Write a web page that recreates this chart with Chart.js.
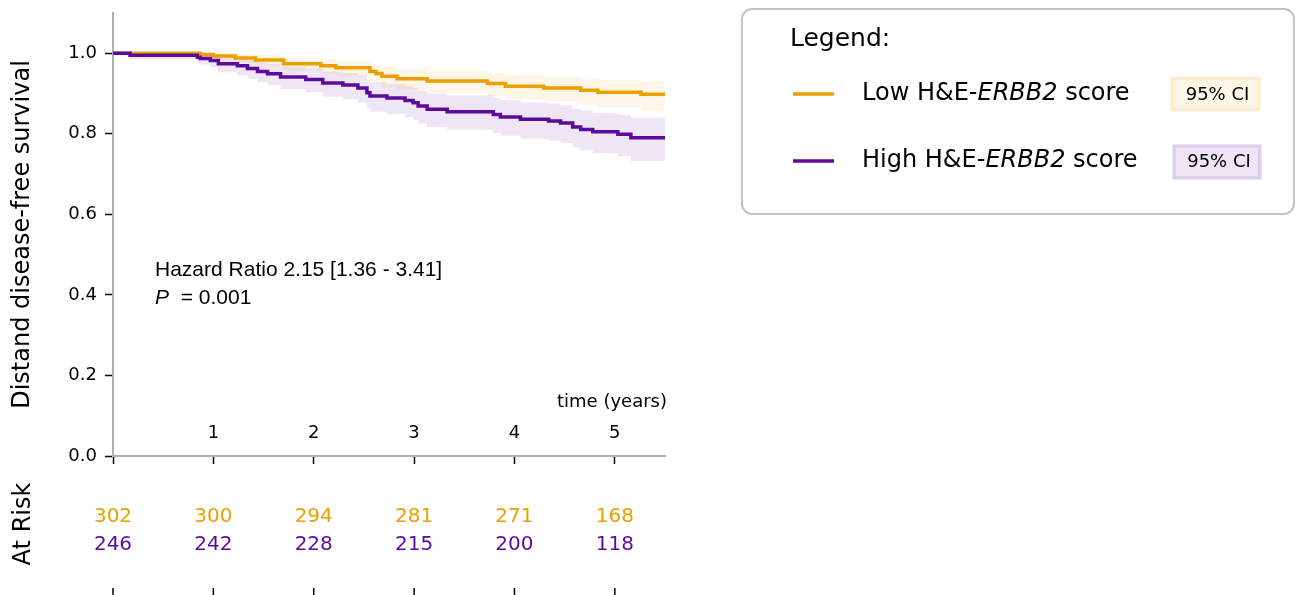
<!DOCTYPE html>
<html>
<head>
<meta charset="utf-8">
<script src="https://cdn.jsdelivr.net/npm/chart.js@4.4.1/dist/chart.umd.min.js"></script>
<style>
  html, body { margin: 0; padding: 0; background: #fff; }
  #km { display: block; }
</style>
</head>
<body>
<canvas id="km" width="1300" height="595"></canvas>
<script>
// Kaplan-Meier steps (time in years)
const lowTimes  = [0, 0.87, 1.0, 1.22, 1.42, 1.70, 2.07, 2.22, 2.56, 2.62, 2.68, 2.83, 3.13, 3.73, 3.91, 4.29, 4.66, 4.83, 5.26, 5.5];
const lowSurv   = [1, .997, .993, .988, .983, .974, .969, .964, .955, .950, .943, .937, .931, .925, .918, .914, .908, .903, .898, .898];
const lowLower  = [1, .990, .984, .976, .969, .957, .950, .943, .931, .925, .916, .909, .902, .894, .886, .881, .873, .866, .858, .858];
const lowUpper  = [1, 1, 1, .998, .995, .989, .985, .981, .975, .971, .966, .961, .956, .951, .945, .941, .936, .933, .930, .930];

const highTimes = [0, 0.17, 0.84, 0.87, 0.97, 1.05, 1.24, 1.34, 1.44, 1.54, 1.67, 1.92, 2.09, 2.29, 2.44, 2.53, 2.56, 2.73, 2.91, 2.99, 3.04, 3.13, 3.33, 3.79, 3.86, 4.06, 4.34, 4.46, 4.58, 4.66, 4.78, 5.03, 5.16, 5.5];
const highSurv  = [1, .995, .990, .987, .982, .974, .969, .962, .955, .949, .941, .935, .926, .921, .914, .902, .894, .889, .883, .877, .869, .861, .855, .848, .842, .836, .832, .827, .817, .811, .805, .799, .790, .790];
const highLower = [1, .985, .977, .972, .965, .953, .946, .937, .928, .921, .911, .903, .892, .886, .878, .864, .855, .849, .842, .835, .826, .817, .810, .802, .795, .788, .783, .777, .766, .759, .752, .744, .732, .732];
const highUpper = [1, 1, 1, 1, .997, .992, .988, .983, .978, .973, .967, .962, .955, .951, .945, .935, .928, .924, .919, .914, .907, .900, .895, .889, .884, .878, .875, .871, .862, .857, .852, .847, .840, .840];

const riskTimes = [0, 1, 2, 3, 4, 5];
const lowAtRisk = [302, 300, 294, 281, 271, 168];
const highAtRisk = [246, 242, 228, 215, 200, 118];

const seriesNames = ['Low H&E-', 'High H&E-'];
const yTicks = [0, 0.2, 0.4, 0.6, 0.8, 1.0];
const xTicks = [0, 1, 2, 3, 4, 5];

const ORANGE = '#e9a000';
const PURPLE = '#5c0a9c';
const ORANGE_CI = 'rgba(233,160,0,0.1)';
const PURPLE_CI = 'rgba(92,10,156,0.1)';
const SANS = '"DejaVu Sans", sans-serif';
const ARIAL = '"Liberation Sans", Arial, sans-serif';

const pts = (xs, ys) => xs.map((x, i) => ({ x, y: ys[i] }));

function band(xs, ys, color) {
  return { data: pts(xs, ys), borderWidth: 0, pointRadius: 0, stepped: true, backgroundColor: color, order: 3 };
}

const extras = {
  id: 'extras',
  afterDraw(chart) {
    const ctx = chart.ctx;
    const xs = chart.scales.x;
    ctx.save();

    // x tick labels sit inside the plot, above the axis
    ctx.fillStyle = '#000';
    ctx.font = '18px ' + SANS;
    ctx.textAlign = 'center';
    ctx.textBaseline = 'middle';
    xTicks.filter(t => t > 0).forEach(t => ctx.fillText(String(t), xs.getPixelForValue(t), 433));

    ctx.textAlign = 'right';
    ctx.fillText('time (years)', xs.right + 2, 402);

    // hazard ratio annotation
    ctx.textAlign = 'left';
    ctx.font = '21px ' + ARIAL;
    ctx.fillText('Hazard Ratio 2.15 [1.36 - 3.41]', 155, 270);
    ctx.font = 'italic 21px ' + ARIAL;
    ctx.fillText('P', 155, 298);
    const pw = ctx.measureText('P').width;
    ctx.font = '21px ' + ARIAL;
    ctx.fillText('  = 0.001', 155 + pw, 298);

    // at-risk table
    ctx.font = '20px ' + SANS;
    ctx.textAlign = 'center';
    riskTimes.forEach((t, i) => {
      const px = xs.getPixelForValue(t);
      ctx.fillStyle = ORANGE;
      ctx.fillText(String(lowAtRisk[i]), px, 517);
      ctx.fillStyle = PURPLE;
      ctx.fillText(String(highAtRisk[i]), px, 545);
      ctx.strokeStyle = '#000';
      ctx.lineWidth = 1.5;
      ctx.beginPath();
      ctx.moveTo(px, 588);
      ctx.lineTo(px, 595);
      ctx.stroke();
    });
    ctx.save();
    ctx.translate(24, 524);
    ctx.rotate(-Math.PI / 2);
    ctx.fillStyle = '#000';
    ctx.font = '24px ' + SANS;
    ctx.textAlign = 'center';
    ctx.fillText('At Risk', 0, 0);
    ctx.restore();

    // legend box
    ctx.fillStyle = '#fff';
    ctx.strokeStyle = '#c4c4c4';
    ctx.lineWidth = 2;
    ctx.beginPath();
    ctx.roundRect(742, 9, 552, 205, 10);
    ctx.fill();
    ctx.stroke();

    ctx.fillStyle = '#000';
    ctx.textAlign = 'left';
    ctx.font = '25px ' + SANS;
    ctx.fillText('Legend:', 790, 39);

    const rows = [
      { y: 94, color: ORANGE, fill: ORANGE_CI, name: seriesNames[0], box: [1170, 76, 91, 36] },
      { y: 161, color: PURPLE, fill: PURPLE_CI, name: seriesNames[1], box: [1172, 144, 90, 36] }
    ];
    rows.forEach(r => {
      ctx.strokeStyle = r.color;
      ctx.lineWidth = 3.5;
      ctx.beginPath();
      ctx.moveTo(793, r.y);
      ctx.lineTo(834, r.y);
      ctx.stroke();

      let x = 862;
      ctx.fillStyle = '#000';
      ctx.font = '24px ' + SANS;
      ctx.fillText(r.name, x, r.y);
      x += ctx.measureText(r.name).width;
      ctx.font = 'italic 24px ' + SANS;
      ctx.fillText('ERBB2', x, r.y);
      x += ctx.measureText('ERBB2').width;
      ctx.font = '24px ' + SANS;
      ctx.fillText(' score', x, r.y);

      const [bx, by, bw, bh] = r.box;
      ctx.fillStyle = r.fill;
      ctx.fillRect(bx, by, bw, bh);
      ctx.strokeStyle = r.fill;
      ctx.lineWidth = 3;
      ctx.strokeRect(bx + 2.5, by + 2.5, bw - 5, bh - 5);
      ctx.fillStyle = '#000';
      ctx.font = '18px ' + SANS;
      ctx.textAlign = 'center';
      ctx.fillText('95% CI', bx + bw / 2 + 2, r.y + 1);
      ctx.textAlign = 'left';
    });

    ctx.restore();
  }
};

new Chart(document.getElementById('km'), {
  type: 'line',
  data: {
    datasets: [
      Object.assign(band(lowTimes, lowUpper, ORANGE_CI), { fill: '+1' }),
      Object.assign(band(lowTimes, lowLower, ORANGE_CI), { fill: false }),
      Object.assign(band(highTimes, highUpper, PURPLE_CI), { fill: '+1' }),
      Object.assign(band(highTimes, highLower, PURPLE_CI), { fill: false }),
      { label: 'Low H&E-ERBB2 score', data: pts(lowTimes, lowSurv), borderColor: ORANGE, borderWidth: 3.5, pointRadius: 0, stepped: true, fill: false, order: 1 },
      { label: 'High H&E-ERBB2 score', data: pts(highTimes, highSurv), borderColor: PURPLE, borderWidth: 3.5, pointRadius: 0, stepped: true, fill: false, order: 0 }
    ]
  },
  options: {
    responsive: false,
    devicePixelRatio: 1,
    animation: false,
    layout: { padding: { top: 13, right: 635, left: 0, bottom: 0 } },
    plugins: { legend: { display: false }, tooltip: { enabled: false } },
    scales: {
      x: {
        type: 'linear',
        min: 0,
        max: 5.5,
        afterBuildTicks: s => { s.ticks = xTicks.map(v => ({ value: v })); },
        afterFit: s => { s.height = 139; s.paddingLeft = 0; s.paddingRight = 0; },
        border: { color: '#b0b0b0', width: 2 },
        grid: { drawOnChartArea: false, tickLength: 8, tickColor: '#000', tickWidth: 1.5 },
        ticks: { display: false }
      },
      y: {
        min: 0,
        max: 1.1,
        afterBuildTicks: s => { s.ticks = yTicks.map(v => ({ value: v })); },
        afterFit: s => { s.width = 113; s.paddingTop = 0; s.paddingBottom = 0; },
        border: { color: '#b0b0b0', width: 2 },
        grid: { drawOnChartArea: false, tickLength: 8, tickColor: '#000', tickWidth: 1.5 },
        ticks: { color: '#000', font: { family: SANS, size: 18 }, padding: 8, callback: v => Number(v).toFixed(1) },
        title: { display: true, text: 'Distand disease-free survival', color: '#000', font: { family: SANS, size: 24 }, padding: { top: 8, bottom: 0 } }
      }
    }
  },
  plugins: [extras]
});
</script>
</body>
</html>
